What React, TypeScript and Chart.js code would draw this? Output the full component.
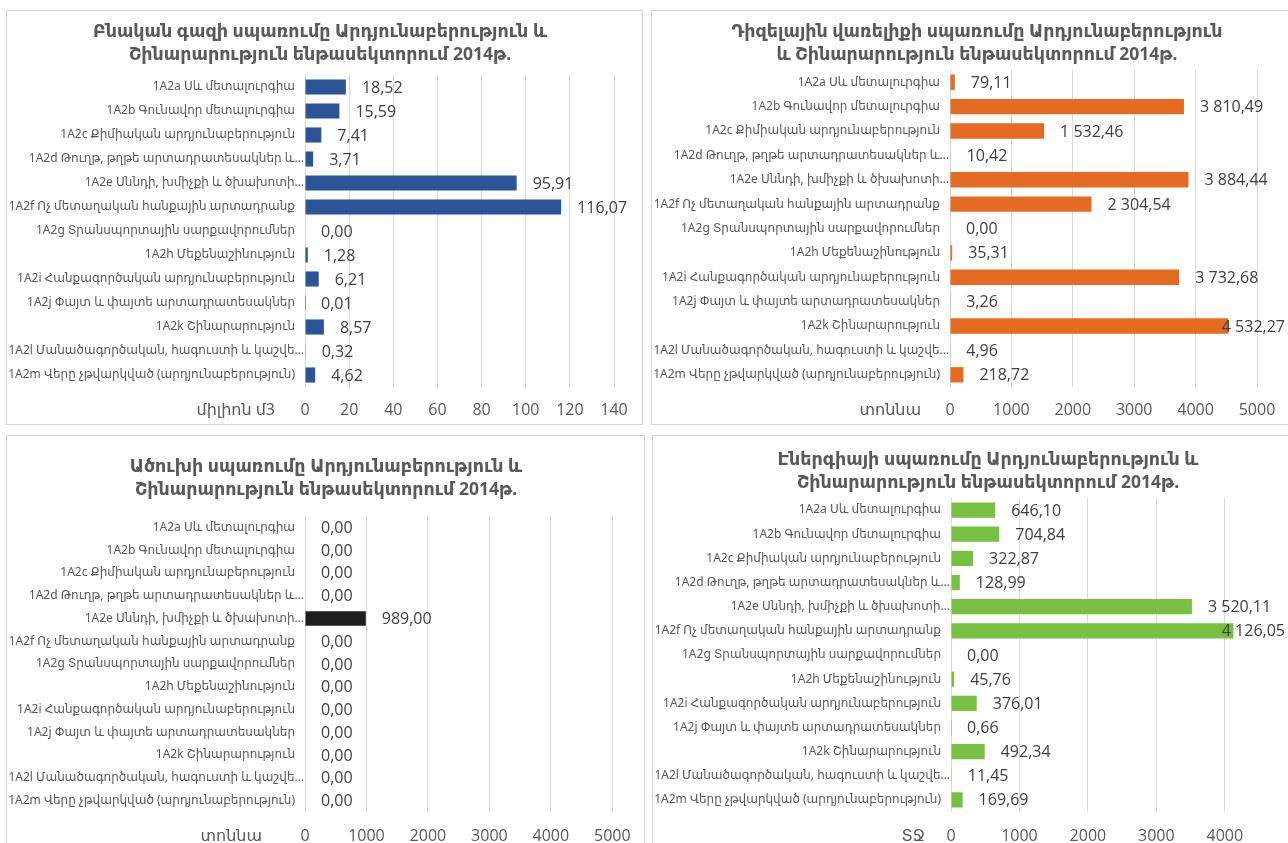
import React, { useEffect, useRef } from "react";
import { Chart, registerables } from "chart.js";

Chart.register(...registerables);

const categories = [
  "1A2a Սև մետալուրգիա",
  "1A2b Գունավոր մետալուրգիա",
  "1A2c Քիմիական արդյունաբերություն",
  "1A2d Թուղթ, թղթե արտադրատեսակներ և…",
  "1A2e Սննդի, խմիչքի և ծխախոտի…",
  "1A2f Ոչ մետաղական հանքային արտադրանք",
  "1A2g Տրանսպորտային սարքավորումներ",
  "1A2h Մեքենաշինություն",
  "1A2i Հանքագործական արդյունաբերություն",
  "1A2j Փայտ և փայտե արտադրատեսակներ",
  "1A2k Շինարարություն",
  "1A2l Մանածագործական, հագուստի և կաշվե…",
  "1A2m Վերը չթվարկված (արդյունաբերություն)",
];

const gasValues = [18.52, 15.59, 7.41, 3.71, 95.91, 116.07, 0.0, 1.28, 6.21, 0.01, 8.57, 0.32, 4.62];
const dieselValues = [79.11, 3810.49, 1532.46, 10.42, 3884.44, 2304.54, 0.0, 35.31, 3732.68, 3.26, 4532.27, 4.96, 218.72];
const coalValues = [0, 0, 0, 0, 989.0, 0, 0, 0, 0, 0, 0, 0, 0];
const energyValues = [646.1, 704.84, 322.87, 128.99, 3520.11, 4126.05, 0.0, 45.76, 376.01, 0.66, 492.34, 11.45, 169.69];

const gasTicks = [0, 20, 40, 60, 80, 100, 120, 140];
const dieselTicks = [0, 1000, 2000, 3000, 4000, 5000];
const coalTicks = [0, 1000, 2000, 3000, 4000, 5000];
const energyTicks = [0, 1000, 2000, 3000, 4000];
const energyAxisMax = 4500;

const gasTitle = ["Բնական գազի սպառումը Արդյունաբերություն և", "Շինարարություն ենթասեկտորում 2014թ."];
const dieselTitle = ["Դիզելային վառելիքի սպառումը Արդյունաբերություն", "և Շինարարություն ենթասեկտորում 2014թ."];
const coalTitle = ["Ածուխի սպառումը Արդյունաբերություն և", "Շինարարություն ենթասեկտորում 2014թ."];
const energyTitle = ["Էներգիայի սպառումը Արդյունաբերություն և", "Շինարարություն ենթասեկտորում 2014թ."];

const gasUnit = "միլիոն մ3";
const dieselUnit = "տոննա";
const coalUnit = "տոննա";
const energyUnit = "ՏՋ";

const ARM = "'Noto Sans', 'DejaVu Sans', sans-serif";
const NUM = "'Open Sans', 'Noto Sans', sans-serif";

function fmt(v: number): string {
  const [i, d] = v.toFixed(2).split(".");
  return i.replace(/\B(?=(\d{3})+(?!\d))/g, " ") + "," + d;
}

type PanelProps = {
  left: number;
  top: number;
  width: number;
  height: number;
  plotLeft: number;
  plotRight: number;
  plotTop: number;
  plotBottom: number;
  titleX: number;
  titleLine1: number;
  tickY: number;
  unitX: number;
  labelLimit: number;
  title: string[];
  unit: string;
  values: number[];
  ticks: number[];
  max: number;
  color: string;
};

function Panel(p: PanelProps) {
  const ref = useRef<HTMLCanvasElement | null>(null);
  useEffect(() => {
    if (!ref.current) return;
    const tickFont = 16;
    const tickPad = p.tickY - p.plotBottom - (tickFont * 1.2) / 2;

    const textPlugin = {
      id: "panelText",
      afterDatasetsDraw(chart: any) {
        const ctx = chart.ctx;
        const meta = chart.getDatasetMeta(0);
        const yScale = chart.scales.y;
        ctx.save();
        // value labels
        ctx.font = `16px ${NUM}`;
        ctx.fillStyle = "#404040";
        ctx.textAlign = "left";
        ctx.textBaseline = "middle";
        meta.data.forEach((bar: any, i: number) => {
          const t = fmt(p.values[i]);
          const w = ctx.measureText(t).width;
          let x = bar.x + 16;
          if (x + w > p.labelLimit) x = p.labelLimit - w;
          ctx.fillText(t, x, bar.y + 1);
        });
        // category labels
        ctx.font = `12px ${ARM}`;
        ctx.fillStyle = "#595959";
        ctx.textAlign = "right";
        categories.forEach((c, i) => {
          const y = yScale.getPixelForValue(i);
          const x = c.endsWith("…") ? p.plotLeft - 1 : p.plotLeft - 10;
          ctx.fillText(c, x, y);
        });
        // title
        ctx.font = `bold 17.5px ${ARM}`;
        ctx.textAlign = "center";
        p.title.forEach((line, i) => {
          ctx.fillText(line, p.titleX, p.titleLine1 + i * 23);
        });
        // unit label
        ctx.font = `16px ${ARM}`;
        ctx.textAlign = "right";
        ctx.fillText(p.unit, p.unitX, p.tickY);
        ctx.restore();
      },
    };

    const chart = new Chart(ref.current, {
      type: "bar",
      data: {
        labels: categories,
        datasets: [
          {
            data: p.values,
            backgroundColor: p.color,
            barPercentage: 0.63,
            categoryPercentage: 1,
          },
        ],
      },
      options: {
        indexAxis: "y",
        animation: false,
        responsive: false,
        maintainAspectRatio: false,
        layout: {
          padding: { left: 0, right: p.width - p.plotRight, top: p.plotTop, bottom: 0 },
        },
        plugins: {
          legend: { display: false },
          tooltip: { enabled: false },
          title: { display: false },
        },
        scales: {
          x: {
            min: 0,
            max: p.max,
            afterBuildTicks: (scale: any) => {
              scale.ticks = p.ticks.map((v) => ({ value: v }));
            },
            afterFit: (scale: any) => {
              scale.height = p.height - p.plotBottom;
            },
            grid: { color: "#d9d9d9", drawTicks: false, lineWidth: 1 },
            border: { display: false },
            ticks: {
              color: "#595959",
              font: { family: NUM, size: tickFont },
              padding: tickPad,
              maxRotation: 0,
              autoSkip: false,
              callback: (v: any) => String(v),
            },
          },
          y: {
            afterFit: (scale: any) => {
              scale.width = p.plotLeft;
            },
            grid: { display: false, drawTicks: false },
            border: { display: false },
            ticks: { display: false, autoSkip: false },
          },
        },
      },
      plugins: [textPlugin],
    });
    return () => chart.destroy();
  }, []);

  return (
    <div
      style={{
        position: "absolute",
        left: p.left,
        top: p.top,
        width: p.width,
        height: p.height,
        background: "#fff",
      }}
    >
      <canvas
        ref={ref}
        width={p.width}
        height={p.height}
        style={{ position: "absolute", left: 0, top: 0, width: p.width, height: p.height }}
      />
      <div
        style={{
          position: "absolute",
          left: 0,
          top: 0,
          right: 0,
          bottom: 0,
          border: "1px solid #d4d4d4",
          boxSizing: "border-box",
          pointerEvents: "none",
        }}
      />
    </div>
  );
}

export default function App() {
  return (
    <div
      style={{
        position: "fixed",
        left: 0,
        top: 0,
        width: 1288,
        height: 843,
        overflow: "hidden",
        background: "#fff",
      }}
    >
      <Panel
        left={6} top={10} width={637} height={415}
        plotLeft={299} plotRight={608} plotTop={65} plotBottom={377}
        titleX={314} titleLine1={22} tickY={400} unitX={269} labelLimit={633}
        title={gasTitle} unit={gasUnit} values={gasValues}
        ticks={gasTicks} max={gasTicks[gasTicks.length - 1]} color="#2B5597"
      />
      <Panel
        left={651} top={10} width={640} height={415}
        plotLeft={299} plotRight={606} plotTop={60} plotBottom={377}
        titleX={326} titleLine1={22} tickY={400} unitX={270} labelLimit={634}
        title={dieselTitle} unit={dieselUnit} values={dieselValues}
        ticks={dieselTicks} max={dieselTicks[dieselTicks.length - 1]} color="#E56B22"
      />
      <Panel
        left={6} top={435} width={639} height={430}
        plotLeft={299} plotRight={608} plotTop={81} plotBottom={377}
        titleX={320} titleLine1={32} tickY={401} unitX={256} labelLimit={635}
        title={coalTitle} unit={coalUnit} values={coalValues}
        ticks={coalTicks} max={coalTicks[coalTicks.length - 1]} color="#1E1E1E"
      />
      <Panel
        left={652} top={435} width={640} height={430}
        plotLeft={299} plotRight={607} plotTop={63} plotBottom={377}
        titleX={336} titleLine1={25} tickY={401} unitX={273} labelLimit={633}
        title={energyTitle} unit={energyUnit} values={energyValues}
        ticks={energyTicks} max={energyAxisMax} color="#78C042"
      />
    </div>
  );
}
